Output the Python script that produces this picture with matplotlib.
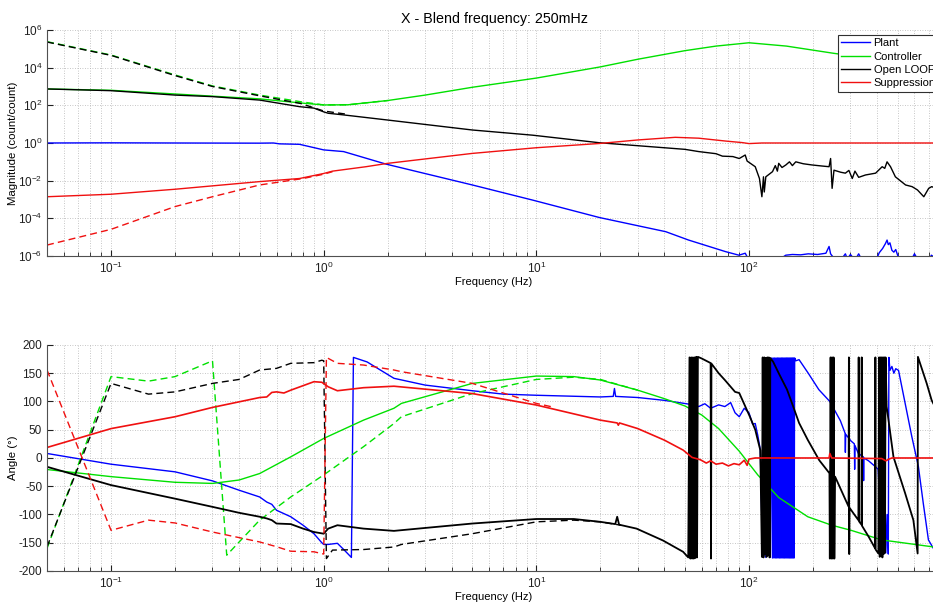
import matplotlib.pyplot as plt

plt.rcParams['font.family'] = ['Liberation Sans', 'DejaVu Sans']
plt.rcParams['mathtext.default'] = 'regular'
plt.rcParams['axes.unicode_minus'] = False

# ---------------- magnitude (count/count) ----------------
plant_mag_f = [0.05, 0.1, 0.2, 0.5, 0.58, 0.62, 0.77, 1.0, 1.24, 1.96, 5.0, 9.6, 19.8, 40.6, 52,
               77.6, 89.7, 96, 100, 110, 130, 145, 149, 160, 175, 190, 210, 230, 238, 242, 250,
               270, 284, 290, 300, 315, 328, 340, 380, 400, 410, 425, 438, 446, 452, 460, 470,
               480, 490, 500, 520, 560, 590, 600, 620, 700, 720, 800]
plant_mag = [1.0, 1.02, 1.0, 0.98, 1.0, 0.9, 0.85, 0.43, 0.35, 7.6e-2, 5.9e-3, 9.3e-4, 1.1e-4,
             1.95e-5, 7e-6, 1.7e-6, 1.1e-6, 1.4e-6, 6e-7, 4e-7, 5e-7, 9e-7, 1.1e-6, 1.2e-6,
             1.15e-6, 1.3e-6, 1.2e-6, 1.4e-6, 3.2e-6, 1.3e-6, 8e-7, 6e-7, 1.3e-6, 7e-7, 1.2e-6,
             6e-7, 1.3e-6, 6e-7, 5e-7, 8e-7, 1.5e-6, 2.5e-6, 4.5e-6, 7e-6, 4e-6, 5e-6, 2e-6,
             1.6e-6, 2.2e-6, 1.1e-6, 6e-7, 5e-7, 9e-7, 1.3e-6, 7e-7, 5e-7, 1.1e-6, 5e-7]

ctrl_mag_f = [0.05, 0.1, 0.2, 0.5, 0.8, 1.0, 1.3, 2, 3, 5, 10, 20, 30, 50, 70, 100, 150, 250,
              400, 700, 800]
ctrl_mag = [7.4e2, 6.3e2, 4.0e2, 2.2e2, 1.3e2, 1.05e2, 1.07e2, 1.8e2, 3.5e2, 9.1e2, 2.8e3,
            1.1e4, 2.8e4, 8.0e4, 1.4e5, 2.1e5, 1.4e5, 5.8e4, 2.8e4, 1.6e4, 1.4e4]
ctrl_model_f = [0.05, 0.1, 0.2, 0.3, 0.5, 0.78, 1.0, 1.3, 2]
ctrl_model_mag = [2.4e5, 4.7e4, 4.1e3, 1.07e3, 3.5e2, 1.55e2, 1.05e2, 1.07e2, 1.8e2]

loop_mag_f = [0.05, 0.1, 0.2, 0.3, 0.5, 0.77, 0.9, 1.0, 1.05, 1.24, 1.96, 5.0, 9.6, 19.8, 50,
              58, 70, 75, 84, 90, 96, 98, 107, 112, 115, 117, 118, 120, 129, 133, 136, 138,
              143, 149, 155, 160, 166, 180, 198, 220, 238, 242, 246, 251, 270, 284, 295, 306,
              315, 328, 353, 394, 423, 435, 446, 463, 488, 545, 585, 620, 664, 700, 723, 800]
loop_mag = [7.4e2, 6.0e2, 3.5e2, 2.9e2, 1.9e2, 85, 71, 45, 38, 31, 17, 4.9, 2.6, 1.03, 0.46,
            0.35, 0.27, 0.2, 0.19, 0.15, 0.23, 0.11, 5.5e-2, 1.3e-2, 1.4e-3, 1.6e-2, 2.5e-3,
            1.6e-2, 3.0e-2, 6.3e-2, 3.2e-2, 8.3e-2, 5e-2, 6.8e-2, 0.1, 6.3e-2, 0.1, 7.9e-2,
            6.8e-2, 6e-2, 5.5e-2, 0.15, 3.9e-3, 3.6e-2, 2.8e-2, 2.5e-2, 3.5e-2, 1.3e-2, 3.2e-2,
            1.5e-2, 2e-2, 2.5e-2, 5.5e-2, 4.5e-2, 0.1, 5.5e-2, 1.6e-2, 5.9e-3, 4.8e-3, 3.2e-3,
            1.4e-3, 3.9e-3, 4.8e-3, 3.2e-3]
loop_model_f = [0.05, 0.1, 0.2, 0.3, 0.5, 0.78, 1.0, 1.3]
loop_model_mag = [2.3e5, 4.5e4, 3.8e3, 1.0e3, 3.2e2, 1.25e2, 50, 33]

supp_mag_f = [0.05, 0.1, 0.2, 0.5, 0.77, 1.0, 1.1, 1.58, 2, 5, 10, 20, 30, 45, 58, 78, 93,
              100, 115, 800]
supp_mag = [1.4e-3, 1.9e-3, 3.5e-3, 8.9e-3, 1.3e-2, 2.4e-2, 3.2e-2, 5.5e-2, 8.3e-2, 0.28,
            0.56, 0.95, 1.45, 2.0, 1.8, 1.26, 1.05, 0.93, 1.0, 1.0]
supp_model_f = [0.05, 0.1, 0.2, 0.3, 0.5, 0.8, 1.0, 1.1]
supp_model_mag = [3.8e-6, 2.6e-5, 4.2e-4, 1.4e-3, 5.9e-3, 1.3e-2, 2.2e-2, 3.0e-2]

# ---------------- phase (deg) ----------------
plant_ph_f = [0.05, 0.1, 0.2, 0.3, 0.4, 0.5, 0.54, 0.57, 0.6, 0.7, 0.8, 0.9, 0.98, 1.0, 1.05,
              1.16, 1.25, 1.35, 1.38, 1.6, 2.14, 3, 5, 7, 10, 20, 23, 23.3, 23.6, 30, 40, 49,
              55, 58, 62, 66, 72, 77, 82, 86, 90, 95, 100, 104, 107, 110, 113, 116, 117, 118,
              119, 120, 121, 122, 124, 126, 128,
              129, 130, 131, 132, 133, 134, 135, 136, 137, 138, 139, 140, 141, 142, 143, 144,
              145, 146, 147, 148, 149, 150, 151, 152, 153, 154, 155, 156, 157, 158, 159, 160,
              161, 162, 163, 164,
              166, 172, 190, 213, 240, 269, 283, 284, 285, 302, 313, 314, 315, 327, 345, 346,
              347, 365, 392, 405, 412, 415, 421, 426, 430, 440, 446, 452, 455, 460, 470, 480,
              490, 505, 540, 583, 626, 660, 698, 750, 800]
plant_ph = [8, -11, -24.5, -40.5, -57, -69, -78, -82, -92.5, -104, -119, -134, -150, -153,
            -153, -151, -163, -176, 178, 170, 141, 129, 119, 113, 111, 108, 109, 123, 109, 107,
            102, 97, 94, 91, 96, 88, 94, 91, 98, 80, 73, 88, 80, 60, 61, 40, 15, -175, 175,
            -172, 177, -176, 170, -160, -170, -176, 177,
            -177, 177, -177, 177, -177, 177, -177, 177, -177, 177, -177, 177, -177, 177, -177,
            177, -177, 177, -177, 177, -177, 177, -177, 177, -177, 177, -177, 177, -177, 177,
            -177, 177, -177, 177, -177, 177,
            172, 174, 150, 121, 100, 66, 44, 10, 42, 30, 25, -20, 22, 8, 2, -40, 0, -5, -15,
            -20, -80, -25, -56, -150, -60, -168, -100, -170, 178, 155, 162, 150, 158, 155, 100,
            38, -15, -80, -145, -165, -175]

ctrl_ph_f = [0.05, 0.1, 0.2, 0.3, 0.4, 0.5, 0.7, 1.0, 1.54, 2.14, 2.32, 5, 10, 15, 20, 30, 40,
             50, 60, 72, 90, 110, 138, 189, 245, 302, 421, 723, 800]
ctrl_ph = [-20.4, -33, -43, -45, -39, -27.5, 2, 34.6, 67, 88, 96.6, 132, 145, 144, 138, 120,
           105, 92, 76, 52, 12, -30, -70, -104, -119, -128, -145, -157, -159]
ctrl_model_ph_f = [0.05, 0.1, 0.15, 0.2, 0.3, 0.35, 0.5, 0.7, 1.0, 1.54, 2.14, 2.32, 5, 10, 15,
                   20, 30]
ctrl_model_ph = [-160, 144, 136, 144, 172, -172, -110, -69, -30, 20, 61, 73, 114, 139, 143, 139,
                 120]

loop_ph_f = [0.05, 0.1, 0.2, 0.3, 0.4, 0.5, 0.54, 0.57, 0.6, 0.7, 0.8, 0.9, 1.0, 1.05, 1.16,
             1.54, 2.14, 5, 10, 15, 20, 23.5, 24, 24.5, 29.6, 39.4, 49, 51.8,
             52.5, 53, 53.5, 54, 54.5, 55, 55.5, 56, 56.5, 57, 57.5,
             60, 66, 66.3, 66.6, 72, 77, 86, 90, 101, 107, 113,
             115, 116, 117, 118, 119, 120, 121, 122, 123, 124, 125, 126,
             130, 138, 151, 160, 172, 189, 214, 239,
             240, 242, 244, 246, 248, 250, 252,
             254, 294, 295, 296, 297, 310, 327, 328, 329, 338, 339, 340, 365, 392, 393, 394, 406,
             409, 412, 415, 418, 421, 424, 427, 430, 433, 436, 439,
             444, 478, 542, 593, 621, 623, 685, 723, 800]
loop_ph = [-15.6, -48, -72, -86.5, -97, -104, -107, -110, -116, -117, -125, -131, -134, -125,
           -119, -125, -129, -116, -108, -108, -113, -117, -104, -118, -125, -146, -166, -176,
           178, -178, 178, -178, 178, -178, 178, -177, 179, -176, 179,
           176, 168, -178, 167, 150, 138, 117, 115, 73, 50, 14,
           -175, 178, -176, 178, -170, 177, -175, 178, -172, 178, -176, 177,
           170, 150, 121, 95, 62, 32, -4, -27,
           -178, 178, -178, 178, -178, 178, -178,
           -33, -86, 178, -170, -88, -98, -110, 178, -112, -118, 178, -120, -139, -160, 178,
           -162, -169, 178, -175, 178, -172, 178, -176, 178, -170, 178, -168, 178,
           91, 2, -62, -110, -169, 179, 132, 102, 70]
loop_model_ph_f = [0.05, 0.1, 0.15, 0.2, 0.3, 0.4, 0.5, 0.6, 0.7, 0.9, 0.98, 1.0, 1.03, 1.1,
                   1.54, 2.14, 2.32, 5, 10, 15, 20, 25]
loop_model_ph = [-157, 132, 113, 117, 132, 139, 155.7, 158.6, 167.5, 168.7, 173, 172, -178,
                 -163, -162, -157.5, -153, -134, -113, -110, -113, -119]

supp_ph_f = [0.05, 0.1, 0.2, 0.3, 0.5, 0.54, 0.57, 0.6, 0.65, 0.7, 0.9, 0.98, 1.05, 1.16, 1.54,
             2.14, 5, 10, 20, 24, 24.3, 24.6, 30, 40, 49, 54, 59, 63, 66, 70, 75, 80, 85, 90,
             95, 98, 100, 107, 150, 238, 240, 245, 421, 440, 455, 470, 800]
supp_ph = [18.6, 52, 73, 89.5, 107, 108, 116, 117, 115, 120, 135, 134, 126, 119, 124.4, 127,
           114, 93.7, 67, 62, 58, 62, 52, 31.6, 14, 1, -3, -9, -5, -11, -9, -14, -10, -12, -4,
           -13, -2, 0, 0, 0, 8, 0, -1, -5, -2, 0, 0]
supp_model_ph_f = [0.05, 0.1, 0.15, 0.2, 0.3, 0.5, 0.6, 0.7, 0.9, 1.0, 1.03, 1.16, 1.54, 2.14,
                   2.32, 5, 10, 12]
supp_model_ph = [155.7, -128, -110, -115, -131, -148.6, -157, -165, -166, -170, 178, 167.5,
                 164.5, 155.7, 152.7, 132, 96.6, 90]

names = ['Plant', 'Controller', 'Open LOOP', 'Suppression']
colors = ['#0000ff', '#00e000', '#000000', '#f01010']

fig = plt.figure(figsize=(9.33, 6.05), dpi=100)
ax1 = fig.add_axes([0.0504, 0.5769, 0.9582, 0.3735])
ax2 = fig.add_axes([0.0504, 0.0562, 0.9582, 0.3736])

lw = 1.0
dash = (5, 3)

# magnitude
ax1.plot(plant_mag_f, plant_mag, color=colors[0], lw=lw, label=names[0])
ax1.plot(ctrl_mag_f, ctrl_mag, color=colors[1], lw=lw, label=names[1])
ax1.plot(ctrl_model_f, ctrl_model_mag, color=colors[1], lw=lw, dashes=dash)
ax1.plot(loop_mag_f, loop_mag, color=colors[2], lw=lw, label=names[2])
ax1.plot(loop_model_f, loop_model_mag, color=colors[2], lw=lw, dashes=dash)
ax1.plot(supp_mag_f, supp_mag, color=colors[3], lw=lw, label=names[3])
ax1.plot(supp_model_f, supp_model_mag, color=colors[3], lw=lw, dashes=dash)

# phase
ax2.plot(plant_ph_f, plant_ph, color=colors[0], lw=lw)
ax2.plot(ctrl_ph_f, ctrl_ph, color=colors[1], lw=lw)
ax2.plot(ctrl_model_ph_f, ctrl_model_ph, color=colors[1], lw=lw, dashes=dash)
ax2.plot(loop_ph_f, loop_ph, color=colors[2], lw=1.3)
ax2.plot(loop_model_ph_f, loop_model_ph, color=colors[2], lw=lw, dashes=dash)
ax2.plot(supp_ph_f, supp_ph, color=colors[3], lw=1.2)
ax2.plot(supp_model_ph_f, supp_model_ph, color=colors[3], lw=lw, dashes=dash)

for ax in (ax1, ax2):
    ax.set_xscale('log')
    ax.set_xlim(0.05, 800)
    ax.set_xticks([0.1, 1, 10, 100])
    ax.grid(True, which='major', axis='both', color='#b4b4b4', lw=0.6, dashes=(1, 2))
    ax.grid(True, which='minor', axis='x', color='#b4b4b4', lw=0.6, dashes=(1, 2))
    ax.spines['top'].set_visible(False)
    ax.spines['right'].set_visible(False)
    for s in ('left', 'bottom'):
        ax.spines[s].set_color('#505050')
        ax.spines[s].set_linewidth(0.8)
    ax.tick_params(which='both', direction='in', labelsize=8.5, colors='#202020')
    ax.tick_params(which='major', length=4)
    ax.tick_params(which='minor', length=3)
    ax.tick_params(axis='y', which='minor', length=0)
    ax.set_xlabel('Frequency (Hz)', fontsize=8, labelpad=1)
    ax.yaxis.set_label_coords(-0.033, 0.5)

ax1.set_yscale('log')
ax1.set_ylim(1e-6, 1e6)
ax1.set_yticks([1e-6, 1e-4, 1e-2, 1e0, 1e2, 1e4, 1e6])
ax1.set_ylabel('Magnitude (count/count)', fontsize=8.2)
ax1.set_title('X - Blend frequency: 250mHz', fontsize=10.3, pad=5)

ax2.set_ylim(-200, 200)
ax2.set_yticks(range(-200, 201, 50))
ax2.set_ylabel('Angle (°)', fontsize=8.2)

leg = ax1.legend(loc='upper left', bbox_to_anchor=(838 / 933, 1 - 35 / 605),
                 bbox_transform=fig.transFigure, fontsize=8, frameon=True, fancybox=False,
                 handlelength=2.6, handletextpad=0.3, labelspacing=0.3, borderpad=0.3,
                 borderaxespad=0)
leg.get_frame().set_edgecolor('#303030')
leg.get_frame().set_linewidth(0.8)
leg.get_frame().set_alpha(1)

fig.savefig('out.png', dpi=100)
